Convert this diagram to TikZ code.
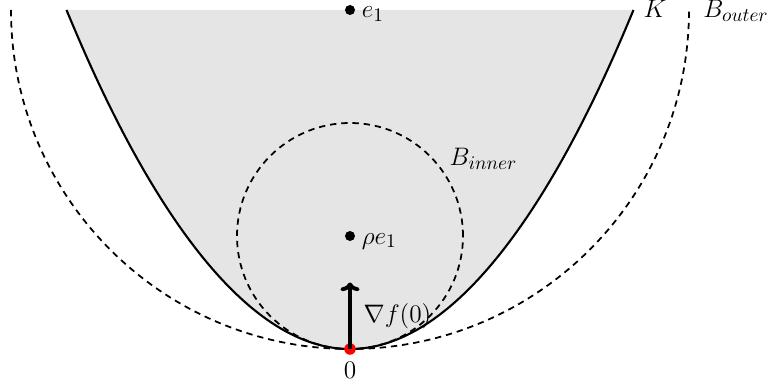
\documentclass[tikz,border=0pt]{standalone}
\usetikzlibrary{arrows.meta}
\begin{document}
\begin{tikzpicture}[
  dot/.style={circle,fill=black,inner sep=0pt,minimum size=0.2cm},
  reddot/.style={circle,fill=red,inner sep=0pt,minimum size=0.23cm},
  lbl/.style={font=\fontsize{15}{18}\selectfont,inner sep=0pt},
  bnd/.style={line width=1.2pt},
  dsh/.style={line width=1pt,dash pattern=on 3.6pt off 2.8pt}
]
\useasboundingbox (-7.0,-0.72) rectangle (8.44,6.98);
% set K
\fill[black!10] (-5.67,6.78) parabola bend (0,0) (5.67,6.78) -- cycle;
\draw[bnd] (-5.67,6.78) parabola bend (0,0) (5.67,6.78);
% balls
\draw[dsh] (-6.78,6.78) arc[start angle=180,end angle=360,radius=6.78];
\draw[dsh] (0,2.26) circle[radius=2.26];
% points
\node[dot] (e1) at (0,6.78) {};
\node[lbl,anchor=base west] (e1l) at (0.23,6.62) {$e_1$};
\node[dot] (rho) at (0,2.26) {};
\node[lbl,anchor=base west] (rhol) at (0.23,2.1) {$\rho e_1$};
\coordinate (tip) at (0,1.33);
\node[reddot] (o) at (0,0) {};
\draw[line width=2.2pt,-{To[length=5pt,width=11pt]}] (o.center) -- (tip);
\node[lbl] (ol) at (0,-0.42) {$0$};
\node[lbl] (gl) at (0.95,0.66) {$\nabla f(0)$};
\node[lbl] (bil) at (2.67,3.8) {$B_{inner}$};
\node[lbl,anchor=base] (kl) at (6.1,6.62) {$K$};
\node[lbl,anchor=base] (bol) at (7.72,6.62) {$B_{outer}$};
\end{tikzpicture}
\end{document}
